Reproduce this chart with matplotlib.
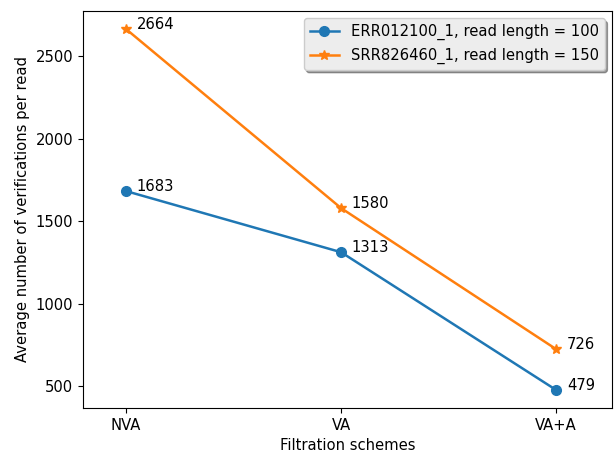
import matplotlib
matplotlib.use('Agg')
import matplotlib.pyplot as plt

schemes = ['NVA', 'VA', 'VA+A']
err_values = [1683, 1313, 479]
srr_values = [2664, 1580, 726]
err_label = 'ERR012100_1, read length = 100'
srr_label = 'SRR826460_1, read length = 150'

plt.rcParams['font.size'] = 10.6
plt.rcParams['lines.linewidth'] = 1.8
plt.rcParams['lines.markersize'] = 7

fig = plt.figure(figsize=(6.15, 4.53), dpi=100)
ax = fig.add_axes([83 / 615, 45 / 453, 529 / 615, 397 / 453])

x = list(range(len(schemes)))
ax.plot(x, err_values, marker='o', label=err_label)
ax.plot(x, srr_values, marker='*', label=srr_label)

for xi, v in zip(x, err_values):
    ax.text(xi + 0.05, v, str(v))
for xi, v in zip(x, srr_values):
    ax.text(xi + 0.05, v, str(v))

ax.set_xticks(x)
ax.set_xticklabels(schemes)
ax.set_xlim(-0.2, 2.26)
ax.set_xlabel('Filtration schemes')
ax.set_ylabel('Average number of verifications per read')
ax.legend(loc='upper right', shadow=True, facecolor='0.93', framealpha=1)

fig.savefig('out.png', dpi=100)
